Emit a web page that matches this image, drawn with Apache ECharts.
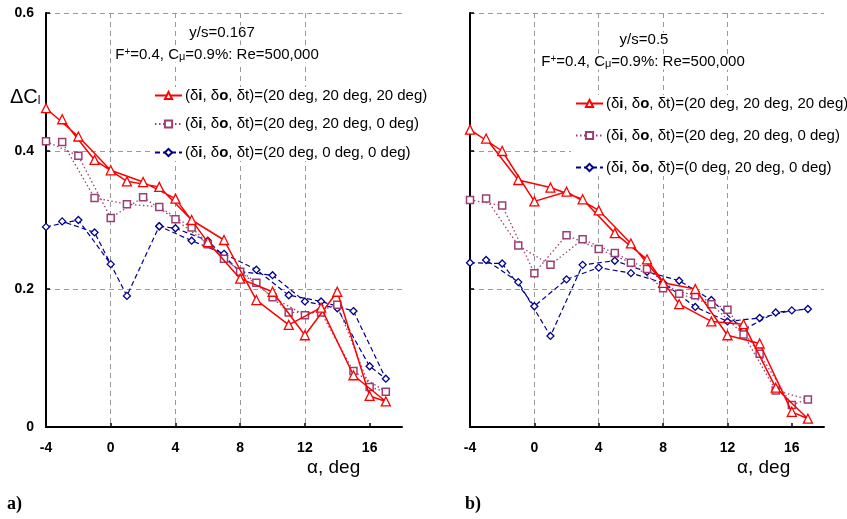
<!DOCTYPE html>
<html><head><meta charset="utf-8">
<script src="https://cdn.jsdelivr.net/npm/echarts@6/dist/echarts.min.js"></script>
<style>html,body{margin:0;padding:0;background:#fff}#c{width:847px;height:519px}</style>
</head><body><div id="c"></div>
<script>
// ---------------- data ----------------
// measured angles of attack (deg): -4 ... 17
const alphaDeg = [-4,-3,-2,-1,0,1,2,3,4,5,6,7,8,9,10,11,12,13,14,15,16,17];
// plotting order of the measurement points (even angles upward, odd angles downward)
const sweepOrder = [-4,-2,0,2,4,6,8,10,12,14,16,17,15,13,11,9,7,5,3,1,-1,-3];
// panel a) blue series has no point at 2 deg (line break there)
const sweepOrderA3 = [-4,-2,0,null,3,4,6,8,10,12,14,16,17,15,13,11,9,7,5,3,1,-1,-3];

// panel a) y/s = 0.167, values of ΔCl listed for alphaDeg
const clA_20_20_20 = [0.462,0.446,0.421,0.387,0.372,0.356,0.355,0.348,0.331,0.300,0.268,0.271,0.215,0.184,0.196,0.148,0.133,0.173,0.196,0.075,0.045,0.037];
const clA_20_20_0  = [0.414,0.413,0.393,0.332,0.303,0.323,0.333,0.319,0.301,0.289,0.265,0.244,0.225,0.209,0.188,0.166,0.162,0.166,0.177,0.081,0.058,0.051];
const clA_20_0_0   = [0.290,0.298,0.300,0.282,0.236,0.190,null,0.291,0.288,0.270,0.270,0.251,0.225,0.228,0.220,0.191,0.182,0.182,0.172,0.168,0.088,0.070];

// panel b) y/s = 0.5
const clB_20_20_20 = [0.431,0.418,0.400,0.358,0.327,0.347,0.341,0.330,0.314,0.281,0.266,0.243,0.209,0.178,0.200,0.153,0.133,0.149,0.121,0.057,0.022,0.012];
const clB_20_20_0  = [0.329,0.331,0.321,0.263,0.223,0.235,0.278,0.272,0.258,0.252,0.238,0.229,0.201,0.193,0.191,0.178,0.170,0.134,0.106,0.053,0.032,0.040];
const clB_0_20_0   = [0.238,0.242,0.237,0.210,0.175,0.132,0.214,0.235,0.231,0.241,0.223,0.225,0.209,0.212,0.174,0.184,0.153,0.141,0.158,0.166,0.169,0.171];

const alphaTicks = [-4,0,4,8,12,16];
const clTicks = [0,0.2,0.4,0.6];

const legendA = ['(δ{b|i}, δ{b|o}, δt)=(20 deg, 20 deg, 20 deg)', '(δ{b|i}, δ{b|o}, δt)=(20 deg, 20 deg, 0 deg)', '(δ{b|i}, δ{b|o}, δt)=(20 deg, 0 deg, 0 deg)'];
const legendB = ['(δ{b|i}, δ{b|o}, δt)=(20 deg, 20 deg, 20 deg)', '(δ{b|i}, δ{b|o}, δt)=(20 deg, 20 deg, 0 deg)', '(δ{b|i}, δ{b|o}, δt)=(0 deg, 20 deg, 0 deg)'];
const titleA = ['y/s=0.167', 'F{sup|+}=0.4, C{sub|μ}=0.9%: Re=500,000'];
const titleB = ['y/s=0.5', 'F{sup|+}=0.4, C{sub|μ}=0.9%: Re=500,000'];

// ---------------- chart ----------------
const FONT = 'Liberation Sans, Arial, Helvetica, sans-serif';
const pts = (order, vals) => order.map(a => a === null ? [2, '-'] : [a, vals[alphaDeg.indexOf(a)]]);

const styles = {
  red:    {color:'#ff0000', symbol:'triangle', size:9, bw:1.3, w:1.5, dash:'solid', z:4},
  purple: {color:'#9b3f72', symbol:'rect', size:7, bw:1.5, w:1.3, dash:[1.5,2.5], z:3},
  blue:   {color:'#00008b', symbol:'diamond', size:7, bw:1.3, w:1.2, dash:[5,3], z:2}
};
function mk(name, vals, order, st, gi) {
  return {
    name, type:'line', xAxisIndex:gi, yAxisIndex:gi, data: pts(order, vals),
    symbol: st.symbol, symbolSize: st.size, color: st.color, z: st.z,
    lineStyle:{color: st.color, width: st.w, type: st.dash},
    itemStyle:{color:'#ffffff', borderColor: st.color, borderWidth: st.bw},
    emphasis:{disabled:true}, animation:false
  };
}

function xAx(gi) {
  return {
    type:'value', gridIndex:gi, min:-4, max:18, interval:4,
    axisLine:{show:true, onZero:false, lineStyle:{color:'#000', width:2}},
    axisTick:{show:true, inside:true, length:4, lineStyle:{color:'#000', width:1.5},
      customValues: alphaTicks},
    axisLabel:{show:true, color:'#000', fontFamily:FONT, fontWeight:'bold', fontSize:14, margin:14,
      showMaxLabel:false, formatter: v => alphaTicks.includes(v) ? String(v) : ''},
    splitLine:{show:true, showMinLine:false, showMaxLine:false, lineStyle:{color:'#9a9a9a', width:1, type:[5,4]}}
  };
}
function yAx(gi, labels) {
  return {
    type:'value', gridIndex:gi, min:0, max:0.6, interval:0.2,
    axisLine:{show:true, onZero:false, lineStyle:{color:'#000', width:2}},
    axisTick:{show:true, inside:true, length:4, lineStyle:{color:'#000', width:1.5}},
    axisLabel:{show:labels, color:'#000', fontFamily:FONT, fontWeight:'bold', fontSize:14, margin:12,
      formatter: v => { const t = clTicks.find(c => Math.abs(c - v) < 1e-9); return t === undefined ? '' : (t === 0 ? '0' : t.toFixed(1)); }},
    splitLine:{show:true, showMinLine:false, lineStyle:{color:'#9a9a9a', width:1, type:[5,4]}}
  };
}
const richLegend = {b:{fontWeight:'bold', fontSize:15, fontFamily:FONT, color:'#000'}};
function legend(names, labels, left, top, gap) {
  return {
    data: names, orient:'vertical', left, top, itemGap:gap, itemWidth:27, itemHeight:9,
    backgroundColor:'#fff', padding:[1,2,1,4], selectedMode:false,
    textStyle:{fontFamily:FONT, fontSize:15, color:'#000', rich:richLegend, padding:[0,0,0,-2]},
    formatter: n => labels[names.indexOf(n)]
  };
}
const richTitle = {
  sup:{fontSize:10, fontFamily:FONT, color:'#000', verticalAlign:'top', lineHeight:10},
  sub:{fontSize:11, fontFamily:FONT, color:'#000', verticalAlign:'bottom', lineHeight:11}
};
function titleText(txt, x, y) {
  return {type:'text', x, y, z:20, style:{text:txt, x:0, y:0, align:'center', verticalAlign:'middle',
    font:'15px ' + FONT, fill:'#000', backgroundColor:'#fff', padding:[0,2], rich:richTitle}};
}

const chart = echarts.init(document.getElementById('c'), null, {renderer:'canvas'});
chart.setOption({
  animation:false,
  backgroundColor:'#fff',
  grid:[{left:46, top:13, width:356, height:414}, {left:470, top:13, width:354, height:414}],
  xAxis:[xAx(0), xAx(1)],
  yAxis:[yAx(0, true), yAx(1, false)],
  legend:[
    legend(['a1','a2','a3'], legendA, 150, 87, 13.5),
    legend(['b1','b2','b3'], legendB, 571, 95, 17)
  ],
  series:[
    mk('a3', clA_20_0_0,   sweepOrderA3, styles.blue,   0),
    mk('a2', clA_20_20_0,  sweepOrder,   styles.purple, 0),
    mk('a1', clA_20_20_20, sweepOrder,   styles.red,    0),
    mk('b3', clB_0_20_0,   sweepOrder,   styles.blue,   1),
    mk('b2', clB_20_20_0,  sweepOrder,   styles.purple, 1),
    mk('b1', clB_20_20_20, sweepOrder,   styles.red,    1)
  ],
  graphic:[
    titleText(titleA[0], 222, 33),
    titleText(titleA[1], 217, 55),
    titleText(titleB[0], 644, 40),
    titleText(titleB[1], 643, 62),
    {type:'text', x:10, y:97, z:20, style:{text:'ΔC{s|l}', verticalAlign:'middle', font:'20px ' + FONT, fill:'#000',
      rich:{s:{fontSize:12, fontFamily:FONT, color:'#000', verticalAlign:'bottom', lineHeight:12}}}},
    {type:'text', x:307, y:468, z:20, style:{text:'α, deg', verticalAlign:'middle', font:'19px ' + FONT, fill:'#000'}},
    {type:'text', x:737, y:468, z:20, style:{text:'α, deg', verticalAlign:'middle', font:'19px ' + FONT, fill:'#000'}},
    {type:'text', x:7, y:504, z:20, style:{text:'a)', verticalAlign:'middle', font:'bold 18px Liberation Serif, Times New Roman, serif', fill:'#000'}},
    {type:'text', x:465, y:504, z:20, style:{text:'b)', verticalAlign:'middle', font:'bold 18px Liberation Serif, Times New Roman, serif', fill:'#000'}}
  ]
});
</script>
</body></html>
